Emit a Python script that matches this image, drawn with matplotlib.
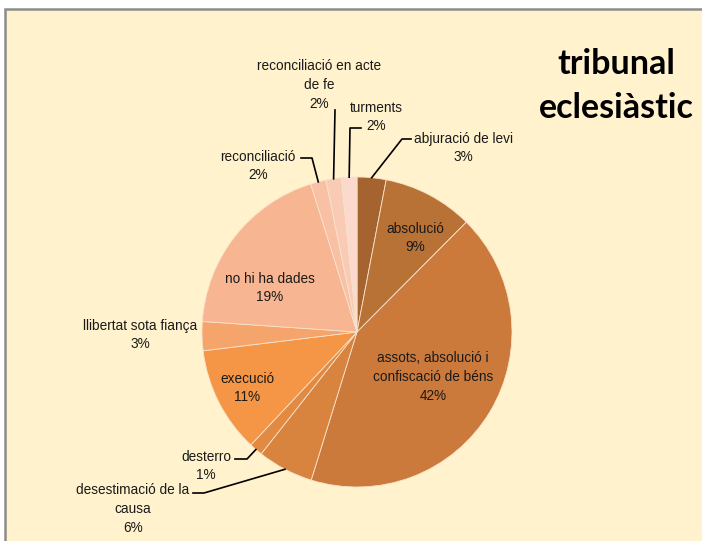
import numpy as np
import matplotlib.pyplot as plt
from matplotlib.patches import Rectangle

# slices, clockwise from 12 o'clock
categories = ["abjuració de levi", "absolució",
              "assots, absolució i\nconfiscació de béns",
              "desestimació de la\ncausa", "desterro", "execució",
              "llibertat sota fiança", "no hi ha dades", "reconciliació",
              "reconciliació en acte\nde fe", "turments"]
values = [3.0, 9.4, 42.1, 5.8, 1.4, 11.0, 3.0, 19.0, 1.6, 1.6, 1.6]
colors = ["#A5642F", "#B97236", "#CB7A3B", "#D8843F", "#E38A42", "#F59646",
          "#F5A46C", "#F7B592", "#F8C0A5", "#F9CBB5", "#FBD9CC"]

W, H = 702, 541
CX, CY, R = 357, 332, 155
LINE_H = 18.5  # px between label lines

def P(x, y):
    # pixel position (origin top-left) -> data coords
    return x, H - y

# label centres in pixels and leader elbows
label_pos = [(463, 148), (415, 238), (433, 377), (133, 509), (206, 466),
             (247, 388), (140, 335), (270, 288), (258, 166), (319, 85), (376, 117)]
leaders = {0: [(402, 139), (411, 139)],
           3: [(204, 493), (193, 493)],
           4: [(247, 459), (235, 459)],
           8: [(312, 158), (301, 158)],
           9: [(335, 110)],
           10: [(350, 128), (361, 128)]}

plt.rcParams['font.family'] = ['Liberation Sans', 'DejaVu Sans']

fig = plt.figure(figsize=(W / 100, H / 100), dpi=100)
fig.patch.set_facecolor('white')
bg = Rectangle((5 / W, -0.1), 1.2, (H - 9) / H + 0.1,
               transform=fig.transFigure, facecolor='#FFF2CC',
               edgecolor='#8C8C8C', linewidth=1.8, zorder=-5)
fig.patches.append(bg)

ax = fig.add_axes([0, 0, 1, 1])
ax.set_zorder(1)
ax.patch.set_alpha(0)
wedges, _ = ax.pie(values, colors=colors, startangle=90, counterclock=False,
                   center=P(CX, CY), radius=R,
                   wedgeprops=dict(edgecolor='#F7E3CC', linewidth=0.6))
ax.set_xlim(0, W)
ax.set_ylim(0, H)
ax.set_aspect('equal')
ax.axis('off')

total = sum(values)
for i, (name, v) in enumerate(zip(categories, values)):
    lines = name.split("\n") + [f"{round(v / total * 100)}%"]
    lx, ly = label_pos[i]
    top = ly - LINE_H * (len(lines) - 1) / 2
    for k, s in enumerate(lines):
        x, y = P(lx, top + k * LINE_H)
        ax.text(x, y, s, ha='center', va='center', fontsize=9.8,
                color='#1a1a1a')
    if i in leaders:
        w = wedges[i]
        mid = np.deg2rad((w.theta1 + w.theta2) / 2)
        xs = [CX + R * np.cos(mid)] + [p[0] for p in leaders[i]]
        ys = [CY - R * np.sin(mid)] + [p[1] for p in leaders[i]]
        ax.plot(xs, [H - y for y in ys], color='black', linewidth=1.2)

tx, ty = P(616, 86)
ax.text(tx, ty, "tribunal\neclesiàstic", ha='center', va='center',
        fontsize=24.5, fontweight='bold', family=['Lato', 'DejaVu Sans'],
        color='black', linespacing=1.5)

fig.savefig('out.png', dpi=100)
